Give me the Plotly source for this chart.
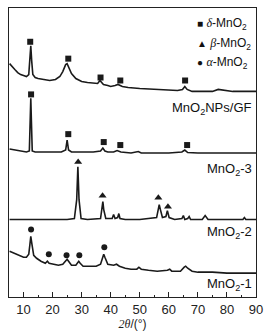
import plotly.graph_objects as go

# ---- data (2θ in degrees, heights in arbitrary stacked units) ----
gf_tt = [5.2, 6, 7, 8, 9, 10, 11, 11.8, 12.2, 12.5, 12.8, 13.2, 14, 15, 17, 19, 21, 22.5, 23.5, 24.5, 25, 25.5,
         26.5, 28, 30, 32, 34, 35.5, 36.3, 36.8, 37.5, 39, 40, 41.5, 42.5, 44, 46, 50, 55, 60, 63, 64.7, 65.5,
         66.3, 68, 72, 75, 77, 79, 82, 86, 90]
gf_y = [235, 232, 229, 226, 224, 223, 222, 224, 238, 253, 238, 224, 221, 220, 219, 218, 219, 222, 227, 234, 235, 232,
        225, 220, 217, 216, 215, 215, 218, 216, 214, 213, 212, 213, 214, 212, 211, 210, 209, 208, 208, 209, 212,
        209, 207, 207, 207, 209, 208, 207, 207, 207]

m3_tt = [5.2, 7, 9, 11, 12, 12.3, 12.5, 12.7, 13, 14, 17, 20, 23, 24.5, 25, 25.5, 26.5, 30, 34, 36.5, 37.3, 38, 39,
         41, 42.2, 43.5, 47, 49.5, 50.5, 55, 60, 64.5, 65.5, 66.5, 70, 90]
m3_y = [149, 148, 147, 146, 147, 178, 200, 178, 147, 146, 146, 146, 146, 148, 158, 148, 146, 146, 146, 147, 150, 147,
        146, 146, 147.5, 146, 145, 146.5, 145, 145, 145, 146, 148, 145.5, 145, 145]

m2_tt = [5.2, 25, 27.5, 28.3, 28.7, 29.1, 29.8, 32, 36.5, 37, 37.3, 37.6, 38.3, 40.5, 41, 41.5, 42.4, 42.8, 43.2, 45,
         50, 55.8, 56.3, 56.7, 57.1, 57.8, 59, 59.5, 60.1, 62, 64.5, 65, 65.5, 66.5, 67, 67.5, 71.5, 72.5, 73.5,
         85.5, 86, 86.5, 90]
m2_y = [78, 78, 79, 98, 131, 98, 79, 78, 79, 93, 96, 88, 79, 79, 83, 79, 80, 84, 79, 78,
        78, 80, 90, 93, 88, 80, 81, 87, 80, 78, 79, 82, 78, 79, 81, 78, 78, 82, 78,
        78, 80, 78, 78]

m1_tt = [5.2, 6, 7, 8, 9, 10, 11, 11.8, 12.2, 12.5, 12.9, 13.5, 14.5, 16, 17.5, 18.2, 18.8, 20, 22, 23.5, 24.5, 25,
         25.5, 26.5, 28, 28.6, 29, 29.5, 30.5, 33, 35, 36.5, 37.3, 37.6, 38, 39, 41, 42, 43, 45, 47, 49, 49.7, 50.5,
         53, 56, 59.5, 60.3, 61, 64, 65.3, 65.8, 66.5, 68, 70, 75, 80, 85, 90]
m1_y = [46, 45, 44, 42, 41, 40, 40, 43, 53, 61, 53, 42, 39, 36, 34, 36, 34, 33, 32, 33, 37, 38,
        36, 32, 32, 35, 36, 34, 31, 31, 31, 33, 41, 43, 40, 33, 32, 33, 31, 29, 28, 28, 30, 28,
        27, 26, 27, 28, 26, 26, 30, 31, 29, 26, 25, 25, 24, 24, 24]

delta_gf_tt = [12.3, 25.4, 36.5, 43.3, 65.6]
delta_gf_y = [257, 240, 221, 218, 218]
delta_m3_tt = [12.6, 25.4, 37.6, 43.3, 66.3]
delta_m3_y = [204, 164, 156, 153, 153]
beta_tt = [28.8, 37.2, 56.4, 59.7]
beta_y = [136, 102, 100, 91]
alpha_tt = [12.6, 18.7, 24.8, 29.2, 37.8]
alpha_y = [68, 43, 42, 42, 50]

curve_labels = ["MnO<sub>2</sub>NPs/GF", "MnO<sub>2</sub>-3", "MnO<sub>2</sub>-2", "MnO<sub>2</sub>-1"]
label_y = [190, 128, 65, 13]
phase_names = ["δ", "β", "α"]
phase_glyphs = ["■", "▲", "●"]
legend_y = [275, 255, 236]

LINE = "#1a1a1a"
SANS = "Liberation Sans, Arial, sans-serif"
SERIF = "Liberation Serif, Times New Roman, serif"

fig = go.Figure()
for tt, yy in [(gf_tt, gf_y), (m3_tt, m3_y), (m2_tt, m2_y), (m1_tt, m1_y)]:
    fig.add_trace(go.Scatter(x=tt, y=yy, mode="lines", line=dict(color=LINE, width=1.6),
                             showlegend=False, hoverinfo="skip"))

for tt, yy, sym in [(delta_gf_tt, delta_gf_y, "square"), (delta_m3_tt, delta_m3_y, "square"),
                    (beta_tt, beta_y, "triangle-up"), (alpha_tt, alpha_y, "circle")]:
    fig.add_trace(go.Scatter(x=tt, y=yy, mode="markers",
                             marker=dict(symbol=sym, color=LINE, size=6 if sym != "triangle-up" else 7),
                             showlegend=False, hoverinfo="skip"))

annotations = []
for lab, yv in zip(curve_labels, label_y):
    annotations.append(dict(x=1, xref="paper", y=yv, yref="y", xanchor="right", yanchor="middle",
                            xshift=-2, text=lab, showarrow=False,
                            font=dict(family=SANS, size=13, color="#111")))
for g, n, yv in zip(phase_glyphs, phase_names, legend_y):
    annotations.append(dict(x=0.755, xref="paper", y=yv, yref="y", xanchor="left", yanchor="middle",
                            text=f"<span style='font-size:10px'>{g}</span> "
                                 f"<span style='font-family:{SERIF}'><i>{n}</i></span>-MnO<sub>2</sub>",
                            showarrow=False, font=dict(family=SANS, size=12, color="#111")))

fig.update_layout(
    width=270, height=334,
    margin=dict(l=9, r=13, t=7, b=36),
    paper_bgcolor="white", plot_bgcolor="white",
    annotations=annotations,
    xaxis=dict(range=[5, 90], showline=True, linecolor="#222", linewidth=1, mirror=True,
               ticks="inside", ticklen=5, tickcolor="#222", tick0=10, dtick=10,
               minor=dict(ticks="inside", ticklen=2, dtick=5, tick0=5, tickcolor="#222"),
               showgrid=False, zeroline=False,
               tickfont=dict(family=SANS, size=13, color="#222"),
               title=dict(text=f"<span style='font-family:{SERIF}'><i>2θ</i></span>/(°)",
                          font=dict(family=SANS, size=12, color="#222"), standoff=2)),
    yaxis=dict(range=[0, 291], showline=True, linecolor="#222", linewidth=1, mirror=True,
               showticklabels=False, ticks="", showgrid=False, zeroline=False),
)

fig.write_html("out.html", config={"displayModeBar": False},
               post_script="document.body.style.margin='0';")
